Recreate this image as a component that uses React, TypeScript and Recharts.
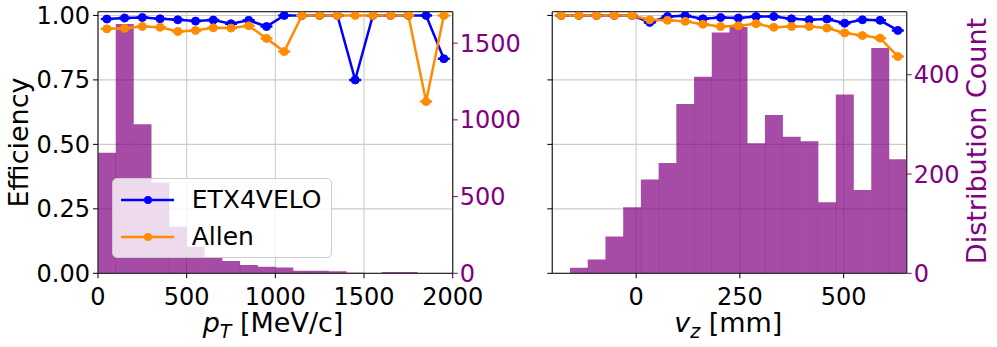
import React from "react";
import { ComposedChart, Bar, Line, XAxis, YAxis, CartesianGrid, Legend, Label, ReferenceLine } from "recharts";

// pT panel: 100 MeV/c bins from 0 to 2000
const PT_BINS = [50, 150, 250, 350, 450, 550, 650, 750, 850, 950, 1050, 1150, 1250, 1350, 1450, 1550, 1650, 1750, 1850, 1950];
const PT_COUNTS = [786, 1625, 971, 591, 304, 173, 105, 80, 54, 43, 37, 17, 17, 13, 3, 2, 9, 9, 2, 2];
const PT_ETX = [0.986, 0.99, 0.992, 0.987, 0.983, 0.978, 0.982, 0.968, 0.981, 0.957, 1.0, 1.0, 1.0, 1.0, 0.75, 1.0, 1.0, 1.0, 1.0, 0.832];
const PT_ALLEN = [0.948, 0.95, 0.957, 0.954, 0.938, 0.942, 0.952, 0.951, 0.96, 0.911, 0.86, 1.0, 1.0, 1.0, 1.0, 1.0, 1.0, 1.0, 0.666, 1.0];
const PT_TICKS = [0, 500, 1000, 1500, 2000];
const PT_COUNT_TICKS = [0, 500, 1000, 1500];

// vz panel: 20 bins between -202 and 652 mm
const VZ_BINS = [-180.6, -138, -95.3, -52.6, -9.9, 32.8, 75.5, 118.2, 160.9, 203.6, 246.3, 289, 331.7, 374.4, 417.1, 459.8, 502.5, 545.2, 587.9, 630.6];
const VZ_COUNTS = [0, 11, 28, 74, 133, 189, 222, 341, 396, 485, 496, 262, 319, 275, 266, 143, 360, 168, 454, 230];
const VZ_ETX = [1.0, 1.0, 1.0, 1.0, 1.0, 0.973, 0.996, 0.999, 0.987, 0.992, 0.99, 0.996, 0.996, 0.987, 0.983, 0.986, 0.97, 0.983, 0.981, 0.942];
const VZ_ALLEN = [1.0, 1.0, 1.0, 1.0, 1.0, 0.983, 0.981, 0.977, 0.966, 0.957, 0.96, 0.968, 0.954, 0.957, 0.957, 0.951, 0.932, 0.922, 0.912, 0.841];
const VZ_TICKS = [0, 250, 500];
const VZ_COUNT_TICKS = [0, 200, 400];

const EFF_TICKS = [0, 0.25, 0.5, 0.75, 1.0];
const EFF_TOP = 1.0145;

const BLUE = "#0000ff";
const ORANGE = "#ff8c00";
const PURPLE = "#800080";
const SPINE = "#333333";
const FONT = "DejaVu Sans";

const ptData = PT_BINS.map((c, i) => ({ c, count: PT_COUNTS[i], etx: PT_ETX[i], allen: PT_ALLEN[i] }));
const vzData = VZ_BINS.map((c, i) => ({ c, count: VZ_COUNTS[i], etx: VZ_ETX[i], allen: VZ_ALLEN[i] }));

const EmptyTick = () => <g />;

// marker with the flat errorbar cap matplotlib leaves on each point
const capDot = (color: string) => (props: any) => {
  const { cx, cy, index } = props;
  if (cx == null || cy == null) return <g key={index} />;
  return (
    <g key={index}>
      <line x1={cx - 6} x2={cx + 6} y1={cy} y2={cy} stroke={color} strokeWidth={2.5} />
      <circle cx={cx} cy={cy} r={4} fill={color} stroke={color} strokeWidth={1} />
    </g>
  );
};

const legendItems = [
  { name: "ETX4VELO", color: BLUE },
  { name: "Allen", color: ORANGE },
];

const renderLegend = () => (
  <div
    style={{
      width: 220,
      height: 80,
      background: "rgba(255,255,255,0.8)",
      border: "1px solid #cccccc",
      borderRadius: 5,
      fontFamily: FONT,
      fontSize: 25,
      boxSizing: "border-box",
      position: "relative",
    }}
  >
    {legendItems.map((it, i) => (
      <div key={it.name} style={{ position: "absolute", left: 8, top: 21 + i * 36.7 - 15, height: 30, display: "flex", alignItems: "center" }}>
        <svg width={54} height={30}>
          <line x1={0} y1={15} x2={53} y2={15} stroke={it.color} strokeWidth={2.5} />
          <circle cx={27} cy={15} r={4} fill={it.color} />
        </svg>
        <span style={{ marginLeft: 17, color: "#000", lineHeight: "30px" }}>{it.name}</span>
      </div>
    ))}
  </div>
);

const tickFont = { fontSize: 24, fontFamily: FONT };

const effLine = (color: string, key: string, name: string) => (
  <Line
    key={key}
    xAxisId="x"
    yAxisId="eff"
    dataKey={key}
    name={name}
    stroke={color}
    strokeWidth={2.5}
    dot={capDot(color)}
    activeDot={false}
    isAnimationActive={false}
  />
);

type PanelProps = {
  data: any[];
  width: number;
  leftW: number;
  rightW: number;
  xDomain: [number, number];
  xTicks: number[];
  cntDomain: [number, number];
  cntTicks: number[];
  showEffLabels: boolean;
  xLabel: React.ReactNode;
  yLabel?: React.ReactNode;
  cntLabel?: React.ReactNode;
  legend?: boolean;
};

const Panel = (p: PanelProps) => (
  <ComposedChart
    width={p.width}
    height={347}
    data={p.data}
    margin={{ top: 11.7, right: 0, bottom: 0, left: 0 }}
    barCategoryGap={0}
    barGap={0}
    style={{ fontFamily: FONT }}
  >
    <CartesianGrid xAxisId="x" yAxisId="eff" stroke="#cccccc" strokeWidth={1.1} />
    <XAxis
      xAxisId="x"
      dataKey="c"
      type="number"
      domain={p.xDomain}
      ticks={p.xTicks}
      allowDataOverflow
      height={73.7}
      tickSize={5}
      tickMargin={10}
      tick={{ ...tickFont, fill: "#000" }}
      tickLine={{ stroke: "#000" }}
      axisLine={{ stroke: SPINE, strokeWidth: 1.3 }}
      interval={0}
    >
      <Label content={() => p.xLabel as any} />
    </XAxis>
    <YAxis
      yAxisId="eff"
      orientation="left"
      domain={[0, EFF_TOP]}
      ticks={EFF_TICKS}
      allowDataOverflow
      width={p.leftW}
      tickSize={5}
      tickMargin={3}
      tick={p.showEffLabels ? { ...tickFont, fill: "#000" } : EmptyTick}
      tickFormatter={(v: number) => v.toFixed(2)}
      tickLine={{ stroke: "#000" }}
      axisLine={{ stroke: SPINE, strokeWidth: 1.3 }}
      interval={0}
    >
      {p.yLabel ? <Label content={() => p.yLabel as any} /> : null}
    </YAxis>
    <YAxis
      yAxisId="cnt"
      orientation="right"
      domain={p.cntDomain}
      ticks={p.cntTicks}
      allowDataOverflow
      width={p.rightW}
      tickSize={5}
      tickMargin={2}
      tick={{ ...tickFont, fill: PURPLE, textAnchor: "start" }}
      tickLine={{ stroke: PURPLE }}
      axisLine={{ stroke: SPINE, strokeWidth: 1.3 }}
      interval={0}
    >
      {p.cntLabel ? <Label content={() => p.cntLabel as any} /> : null}
    </YAxis>
    <Bar xAxisId="x" yAxisId="cnt" dataKey="count" fill={PURPLE} fillOpacity={0.7} isAnimationActive={false} />
    {effLine(BLUE, "etx", "ETX4VELO")}
    {effLine(ORANGE, "allen", "Allen")}
    <ReferenceLine xAxisId="x" yAxisId="eff" y={EFF_TOP} stroke={SPINE} strokeWidth={1.3} ifOverflow="visible" />
    {p.legend ? (
      <Legend
        layout="vertical"
        align="center"
        verticalAlign="middle"
        content={renderLegend}
        wrapperStyle={{ left: 111.7, top: 178.3, width: 220, height: 80 }}
      />
    ) : null}
  </ComposedChart>
);

const ptLabel = (
  <text x={273} y={332} textAnchor="middle" fontSize={27} fontFamily={FONT} fill="#000">
    <tspan fontStyle="italic">p</tspan>
    <tspan fontStyle="italic" fontSize={19} dy={6}>T</tspan>
    <tspan dy={-6}> [MeV/c]</tspan>
  </text>
);

const vzLabel = (
  <text x={183.3} y={332} textAnchor="middle" fontSize={27} fontFamily={FONT} fill="#000">
    <tspan fontStyle="italic">v</tspan>
    <tspan fontStyle="italic" fontSize={19} dy={6}>z</tspan>
    <tspan dy={-6}> [mm]</tspan>
  </text>
);

const effLabel = (
  <text x={28.3} y={142.5} transform="rotate(-90, 28.3, 142.5)" textAnchor="middle" fontSize={27} fontFamily={FONT} fill="#000">
    Efficiency
  </text>
);

const cntLabel = (
  <text x={441} y={141} transform="rotate(-90, 441, 141)" textAnchor="middle" fontSize={27} fontFamily={FONT} fill={PURPLE}>
    Distribution Count
  </text>
);

export default function App() {
  return (
    <div style={{ position: "absolute", left: 0, top: 0, width: 997, height: 347, background: "#fff", fontFamily: FONT }}>
      <div style={{ position: "absolute", left: 0, top: 0 }}>
        <Panel
          data={ptData}
          width={545}
          leftW={98}
          rightW={92.3}
          xDomain={[0, 2000]}
          xTicks={PT_TICKS}
          cntDomain={[0, 1705]}
          cntTicks={PT_COUNT_TICKS}
          showEffLabels
          xLabel={ptLabel}
          yLabel={effLabel}
          legend
        />
      </div>
      <div style={{ position: "absolute", left: 545, top: 0 }}>
        <Panel
          data={vzData}
          width={452}
          leftW={7.3}
          rightW={90.3}
          xDomain={[-202, 652]}
          xTicks={VZ_TICKS}
          cntDomain={[0, 527]}
          cntTicks={VZ_COUNT_TICKS}
          showEffLabels={false}
          xLabel={vzLabel}
          cntLabel={cntLabel}
        />
      </div>
    </div>
  );
}
